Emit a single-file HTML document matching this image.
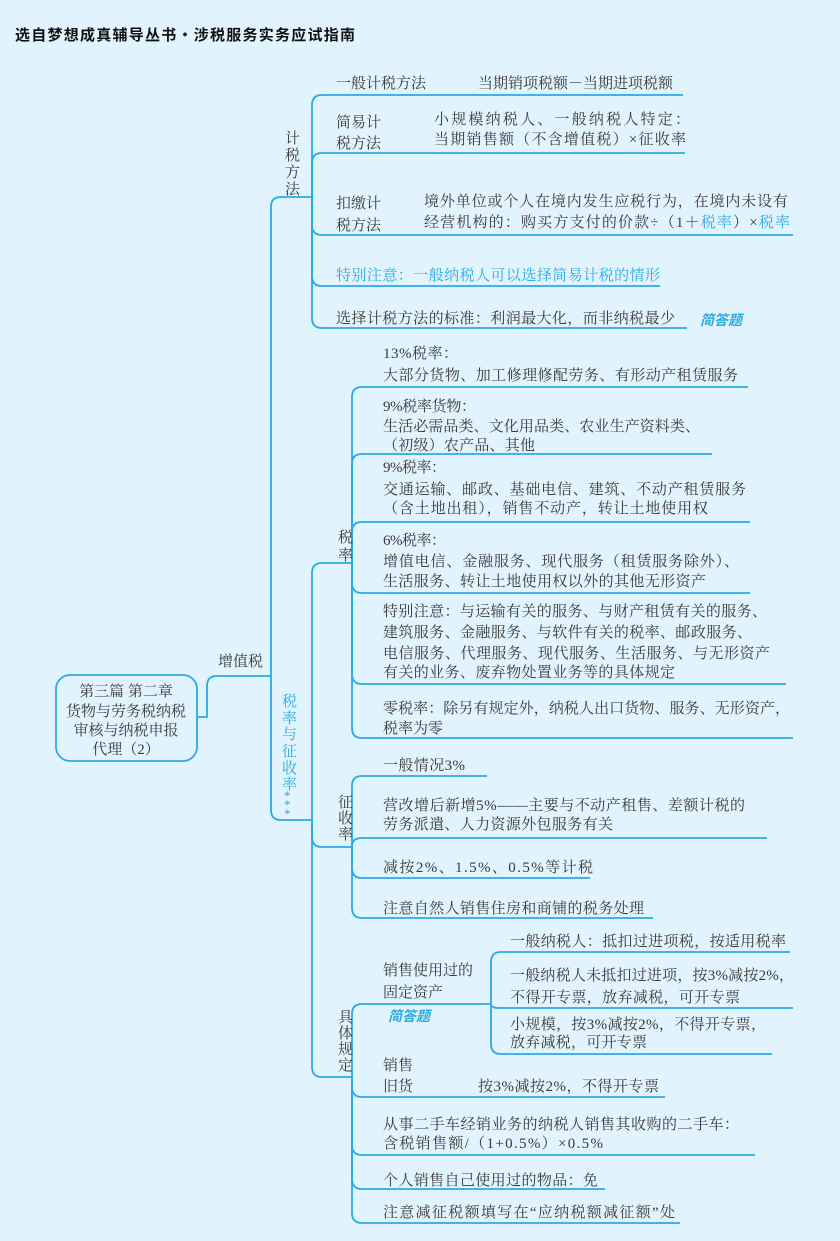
<!DOCTYPE html>
<html><head><meta charset="utf-8"><style>
html,body{margin:0;padding:0;background:#e1f3fc;}
svg{display:block;}
text{font-family:"Liberation Serif","Noto Serif CJK SC",serif;font-size:15px;fill:#3a3a3a;}
.c{fill:#29abe2;}
.b{font-family:"Liberation Sans","Noto Sans CJK SC",sans-serif;font-weight:bold;font-style:italic;fill:#29abe2;font-size:14px;}
.t{font-family:"Liberation Sans","Noto Sans CJK SC",sans-serif;font-weight:bold;fill:#111;font-size:15px;}
path,rect{fill:none;stroke:#29abe2;stroke-width:1.8;}
</style></head><body>
<svg width="840" height="1241" viewBox="0 0 840 1241" xmlns="http://www.w3.org/2000/svg">
<rect x="0" y="0" width="840" height="1241" style="fill:#e1f3fc;stroke:none"/>
<text class="t" x="15" y="40" textLength="340" lengthAdjust="spacing">选自梦想成真辅导丛书・涉税服务实务应试指南</text>

<rect x="56" y="675" width="141" height="86" rx="14"/>
<path d="M197 717 L207 717 L207 686 Q207 676 217 676 L271 676"/>
<path d="M271 676 L271 207 Q271 197 281 197 L312 197"/>
<path d="M271 676 L271 810 Q271 820 281 820 L312 820"/>
<path d="M312 197 L312 105 Q312 95 322 95 L683 95"/>
<path d="M312 197 L312 163 Q312 153 322 153 L685 153"/>
<path d="M312 197 L312 225 Q312 235 322 235 L793 235"/>
<path d="M312 197 L312 276 Q312 286 322 286 L660 286"/>
<path d="M312 197 L312 318 Q312 328 322 328 L687 328"/>
<path d="M312 820 L312 573 Q312 563 322 563 L352 563"/>
<path d="M312 820 L312 837 Q312 847 322 847 L352 847"/>
<path d="M312 820 L312 1067 Q312 1077 322 1077 L352 1077"/>
<path d="M352 563 L352 397 Q352 387 362 387 L748 387"/>
<path d="M352 563 L352 464 Q352 454 362 454 L712 454"/>
<path d="M352 563 L352 532 Q352 522 362 522 L750 522"/>
<path d="M352 563 L352 583 Q352 593 362 593 L750 593"/>
<path d="M352 563 L352 674 Q352 684 362 684 L786 684"/>
<path d="M352 563 L352 728 Q352 738 362 738 L793 738"/>
<path d="M352 847 L352 786 Q352 776 362 776 L487 776"/>
<path d="M352 847 L352 846 Q352 838 362 838 L767 838"/>
<path d="M352 847 L352 868 Q352 878 362 878 L590 878"/>
<path d="M352 847 L352 908 Q352 918 362 918 L653 918"/>
<path d="M352 1077 L352 1014 Q352 1004 362 1004 L491 1004"/>
<path d="M352 1077 L352 1087 Q352 1097 362 1097 L665 1097"/>
<path d="M352 1077 L352 1145 Q352 1155 362 1155 L755 1155"/>
<path d="M352 1077 L352 1179 Q352 1189 362 1189 L605 1189"/>
<path d="M352 1077 L352 1213 Q352 1223 362 1223 L680 1223"/>
<path d="M491 1004 L491 962 Q491 952 501 952 L790 952"/>
<path d="M491 1004 L491 1004 Q491 1008 499 1008 L793 1008"/>
<path d="M491 1004 L491 1044 Q491 1054 501 1054 L772 1054"/>

<text x="126" y="696" text-anchor="middle">第三篇  第二章</text>
<text x="126" y="716" text-anchor="middle">货物与劳务税纳税</text>
<text x="126" y="735" text-anchor="middle">审核与纳税申报</text>
<text x="126" y="754" text-anchor="middle">代理（2）</text>
<text x="218" y="666">增值税</text>

<text x="285" y="143">计</text><text x="285" y="160">税</text><text x="285" y="177">方</text><text x="285" y="194">法</text>
<text class="c" x="282" y="706">税</text><text class="c" x="282" y="723">率</text><text class="c" x="282" y="739">与</text><text class="c" x="282" y="756">征</text><text class="c" x="282" y="773">收</text><text class="c" x="282" y="789">率</text>
<text class="c" x="284" y="800" style="font-size:13px">*</text><text class="c" x="284" y="809" style="font-size:13px">*</text><text class="c" x="284" y="818" style="font-size:13px">*</text>

<text x="336" y="88" textLength="90" lengthAdjust="spacing">一般计税方法</text><text x="478" y="88" textLength="195" lengthAdjust="spacing">当期销项税额－当期进项税额</text>
<text x="336" y="127">简易计</text><text x="336" y="148">税方法</text>
<text x="434" y="124" textLength="256" lengthAdjust="spacing">小规模纳税人、一般纳税人特定：</text>
<text x="434" y="144" textLength="252" lengthAdjust="spacing">当期销售额（不含增值税）×征收率</text>
<text x="336" y="208">扣缴计</text><text x="336" y="230">税方法</text>
<text x="424" y="206" textLength="364" lengthAdjust="spacing">境外单位或个人在境内发生应税行为，在境内未设有</text>
<text x="424" y="227" textLength="366" lengthAdjust="spacing">经营机构的：购买方支付的价款÷（1＋<tspan class="c">税率</tspan>）×<tspan class="c">税率</tspan></text>
<text class="c" x="336" y="280" textLength="324" lengthAdjust="spacing">特别注意：一般纳税人可以选择简易计税的情形</text>
<text x="336" y="323" textLength="339" lengthAdjust="spacing">选择计税方法的标准：利润最大化，而非纳税最少</text>
<text class="b" x="700" y="325">简答题</text>

<text x="338" y="542">税</text><text x="338" y="560">率</text>
<text x="383" y="358" textLength="75" lengthAdjust="spacing">13%税率：</text><text x="383" y="380" textLength="355" lengthAdjust="spacing">大部分货物、加工修理修配劳务、有形动产租赁服务</text>
<text x="383" y="411" textLength="93" lengthAdjust="spacing">9%税率货物：</text><text x="383" y="431" textLength="317" lengthAdjust="spacing">生活必需品类、文化用品类、农业生产资料类、</text><text x="383" y="450" textLength="152" lengthAdjust="spacing">（初级）农产品、其他</text>
<text x="383" y="472" textLength="63" lengthAdjust="spacing">9%税率：</text><text x="383" y="494" textLength="363" lengthAdjust="spacing">交通运输、邮政、基础电信、建筑、不动产租赁服务</text><text x="383" y="513" textLength="325" lengthAdjust="spacing">（含土地出租），销售不动产，转让土地使用权</text>
<text x="383" y="545" textLength="63" lengthAdjust="spacing">6%税率：</text><text x="383" y="566" textLength="356" lengthAdjust="spacing">增值电信、金融服务、现代服务（租赁服务除外）、</text><text x="383" y="586" textLength="323" lengthAdjust="spacing">生活服务、转让土地使用权以外的其他无形资产</text>
<text x="383" y="616" textLength="384" lengthAdjust="spacing">特别注意：与运输有关的服务、与财产租赁有关的服务、</text><text x="383" y="637" textLength="369" lengthAdjust="spacing">建筑服务、金融服务、与软件有关的税率、邮政服务、</text><text x="383" y="658" textLength="387" lengthAdjust="spacing">电信服务、代理服务、现代服务、生活服务、与无形资产</text><text x="383" y="677" textLength="292" lengthAdjust="spacing">有关的业务、废弃物处置业务等的具体规定</text>
<text x="383" y="713" textLength="407" lengthAdjust="spacing">零税率：除另有规定外，纳税人出口货物、服务、无形资产，</text><text x="383" y="733">税率为零</text>

<text x="338" y="807">征</text><text x="338" y="823">收</text><text x="338" y="839">率</text>
<text x="383" y="770" textLength="82" lengthAdjust="spacing">一般情况3%</text>
<text x="383" y="810" textLength="362" lengthAdjust="spacing">营改增后新增5%——主要与不动产租售、差额计税的</text><text x="383" y="829" textLength="230" lengthAdjust="spacing">劳务派遣、人力资源外包服务有关</text>
<text x="383" y="872" textLength="210" lengthAdjust="spacing">减按2%、1.5%、0.5%等计税</text>
<text x="383" y="913" textLength="261" lengthAdjust="spacing">注意自然人销售住房和商铺的税务处理</text>

<text x="338" y="1022">具</text><text x="338" y="1038">体</text><text x="338" y="1054">规</text><text x="338" y="1070">定</text>
<text x="383" y="975">销售使用过的</text><text x="383" y="997">固定资产</text>
<text class="b" x="388" y="1021">简答题</text>
<text x="510" y="946" textLength="276" lengthAdjust="spacing">一般纳税人：抵扣过进项税，按适用税率</text>
<text x="510" y="980" textLength="284" lengthAdjust="spacing">一般纳税人未抵扣过进项，按3%减按2%，</text><text x="510" y="1002" textLength="230" lengthAdjust="spacing">不得开专票，放弃减税，可开专票</text>
<text x="510" y="1029" textLength="256" lengthAdjust="spacing">小规模，按3%减按2%，不得开专票，</text><text x="510" y="1047" textLength="137" lengthAdjust="spacing">放弃减税，可开专票</text>
<text x="383" y="1070">销售</text><text x="383" y="1091">旧货</text><text x="478" y="1091" textLength="181" lengthAdjust="spacing">按3%减按2%，不得开专票</text>
<text x="383" y="1129" textLength="356" lengthAdjust="spacing">从事二手车经销业务的纳税人销售其收购的二手车：</text><text x="383" y="1148" textLength="220" lengthAdjust="spacing">含税销售额/（1+0.5%）×0.5%</text>
<text x="383" y="1185" textLength="215" lengthAdjust="spacing">个人销售自己使用过的物品：免</text>
<text x="383" y="1217" textLength="292" lengthAdjust="spacing">注意减征税额填写在“应纳税额减征额”处</text>
</svg>
</body></html>
